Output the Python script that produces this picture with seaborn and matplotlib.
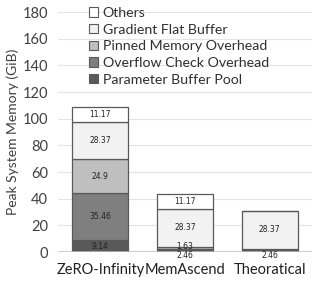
import matplotlib
matplotlib.use("Agg")
import matplotlib.pyplot as plt
import seaborn as sns
import numpy as np
import pandas as pd
from matplotlib.patches import Patch

categories = ["ZeRO-Infinity", "MemAscend", "Theoratical"]
components = ["Parameter Buffer Pool", "Overflow Check Overhead", "Pinned Memory Overhead",
              "Gradient Flat Buffer", "Others"]
param_buffer = [9.14, 2.46, 2.46]
overflow_check = [35.46, 0.0, 0.0]
pinned_memory = [24.9, 1.63, 0.0]
gradient_flat = [28.37, 28.37, 28.37]
others = [11.17, 11.17, 0.0]
colors = ["#595959", "#7f7f7f", "#bfbfbf", "#f2f2f2", "#ffffff"]
y_ticks = [0, 20, 40, 60, 80, 100, 120, 140, 160, 180]

sns.set_theme(style="white")
plt.rcParams['font.family'] = ['Lato', 'DejaVu Sans']

series = [param_buffer, overflow_check, pinned_memory, gradient_flat, others]
fig = plt.figure(figsize=(3.12, 2.82), dpi=100)
ax = fig.add_axes([0.186, 0.106, 0.814, 0.851])

bottom = np.zeros(len(categories))
for name, vals, col in zip(components, series, colors):
    df = pd.DataFrame({"cat": categories, "val": vals})
    sns.barplot(data=df, x="cat", y="val", ax=ax, color=col, width=0.66,
                bottom=bottom, edgecolor="#595959", linewidth=0.9, saturation=1, zorder=3)
    bottom = bottom + np.array(vals)

# labels
bottom = np.zeros(len(categories))
for name, vals in zip(components, series):
    for i, v in enumerate(vals):
        if v <= 0:
            continue
        if v < 2.0:
            y = bottom[i] + v / 2 + 0.8
        elif v < 3 and i > 0:
            y = -2.6
        else:
            y = bottom[i] + v / 2
        ax.text(i, y, f"{v:g}", ha="center", va="center", fontsize=5.5,
                family="DejaVu Sans", color="#222222", zorder=5)
    bottom = bottom + np.array(vals)

ax.set_xlim(-0.5, 2.5)
ax.set_ylim(0, 180)
ax.set_yticks(y_ticks)
ax.yaxis.grid(True, color="#e4e4e4", linewidth=0.8, zorder=0)
ax.set_axisbelow(True)
for s in ["top", "right", "left", "bottom"]:
    ax.spines[s].set_visible(False)
ax.axhline(0, color="#bfbfbf", linewidth=1.8, zorder=4)
ax.set_xlabel("")
ax.set_ylabel("Peak System Memory (GiB)", fontsize=10, color="#404040", labelpad=3)
ax.tick_params(axis="y", labelsize=10.5, colors="#404040", length=0, pad=7)
ax.tick_params(axis="x", labelsize=10.5, colors="#202020", length=0, pad=8)

handles = [Patch(facecolor=c, edgecolor="#595959", linewidth=0.8, label=n)
           for n, c in zip(components, colors)][::-1]
leg = ax.legend(handles=handles, loc="upper left", bbox_to_anchor=(0.1, 1.045),
                frameon=False, fontsize=10.2, handlelength=0.65, handleheight=0.65,
                handletextpad=0.3, labelspacing=0.33, borderaxespad=0)
for t in leg.get_texts():
    t.set_color("#303030")

fig.savefig("out.png", dpi=100)
